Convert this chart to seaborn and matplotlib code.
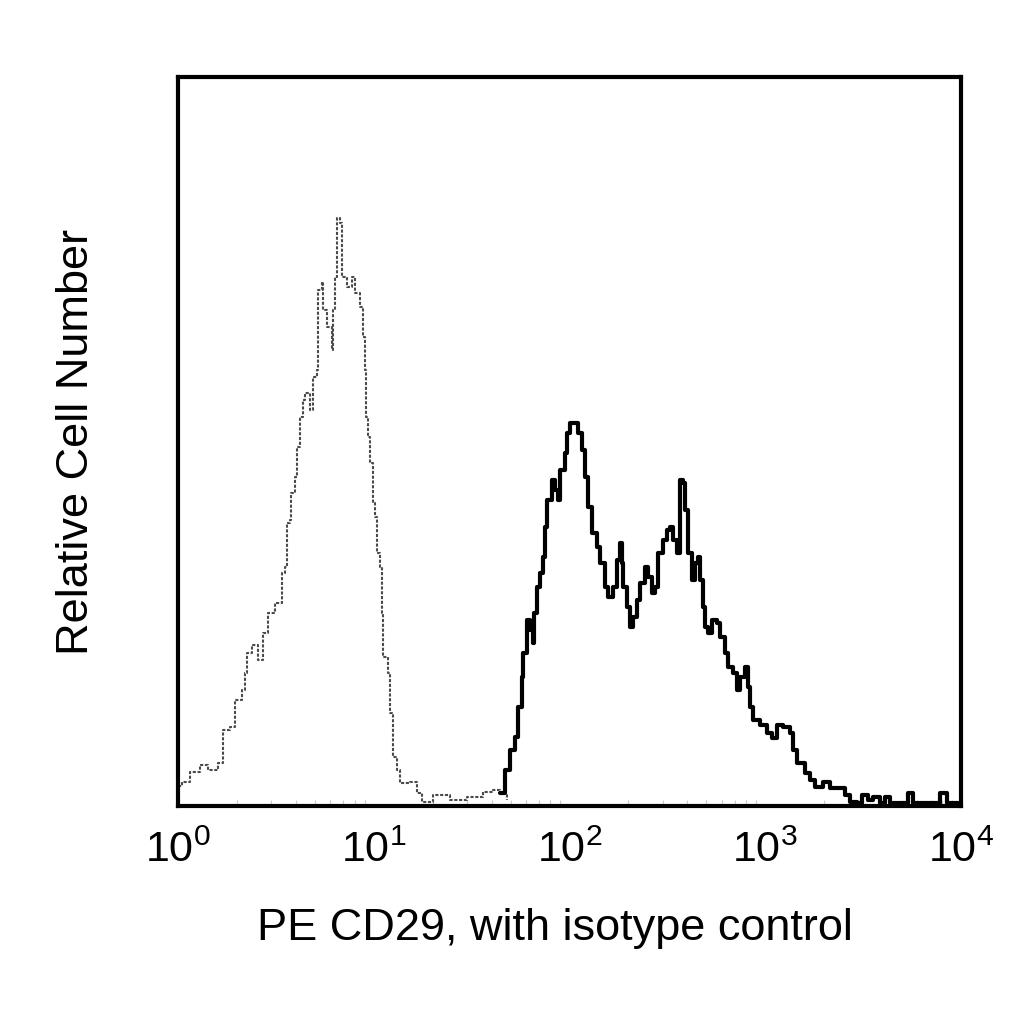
import numpy as np
import pandas as pd
import matplotlib
matplotlib.use("Agg")
import matplotlib.pyplot as plt
import seaborn as sns
from matplotlib.ticker import LogLocator, LogFormatterMathtext, NullFormatter

# isotype control (grey, dotted)
iso_x = [1.0, 1.05, 1.15, 1.30, 1.42, 1.60, 1.70, 1.84, 1.96, 2.12, 2.20, 2.25, 2.39, 2.56,
         2.72, 2.88, 3.13, 3.40, 3.52, 3.60, 3.73, 3.78, 3.96, 4.05, 4.20, 4.35, 4.46, 4.72,
         4.89, 5.13, 5.19, 5.44, 5.50, 5.77, 6.12, 6.19, 6.34, 6.49, 6.72, 6.88, 7.30, 7.74,
         8.02, 8.51, 8.81, 9.02, 9.13, 9.35, 9.57, 9.91, 10.1, 10.4, 10.8, 11.0, 11.1, 11.8,
         12.1, 12.5, 13.2, 13.6, 15.3, 16.6, 17.6, 20.1, 24.5, 30.0, 36.1, 40.7, 44.2, 48.0]
iso_y = [20, 24, 34, 41, 36, 43, 76, 79, 106, 116, 133, 153, 161, 146,
         173, 193, 203, 233, 239, 283, 286, 313, 329, 359, 389, 406, 413, 396,
         429, 436, 516, 524, 496, 479, 456, 496, 529, 588, 583, 529, 519, 529,
         513, 499, 469, 436, 389, 369, 343, 303, 289, 253, 239, 193, 149, 133,
         93, 49, 36, 23, 24, 13, 4, 11, 6, 9, 14, 16, 13, 6]

# PE CD29 (black)
cd29_x = [44.2, 46.8, 49.7, 52.7, 54.6, 57.2, 57.9, 60.6, 62.8, 65.1, 65.9, 68.2, 70.7, 73.2,
          75.0, 76.7, 81.4, 84.3, 87.4, 89.4, 94.8, 97.1, 100.6, 109, 110, 116, 120, 124,
          130, 138, 143, 152, 157, 167, 175, 181, 185, 188, 197, 204, 211, 221, 229, 243,
          252, 264, 273, 283, 301, 315, 326, 338, 354, 367, 380, 389, 403, 423, 438, 453,
          464, 481, 492, 510, 535, 567, 587, 623, 645, 685, 717, 743, 788, 817, 836, 866,
          940, 1020, 1080, 1148, 1233, 1338, 1386, 1453, 1541, 1597, 1693, 1797, 1973, 2142,
          2353, 2555, 2709, 2944, 3120, 3348, 3551, 3857, 4090, 4335, 5170, 5360, 5690, 7640,
          7820, 8490, 9660]
cd29_y = [13, 36, 56, 69, 99, 129, 153, 186, 176, 163, 193, 219, 233, 249,
          279, 306, 326, 316, 306, 336, 353, 373, 383, 383, 373, 356, 329, 299,
          273, 259, 243, 219, 209, 219, 246, 263, 243, 219, 199, 179, 189, 206, 223, 239,
          229, 213, 219, 253, 266, 276, 279, 266, 253, 326, 323, 296, 253, 226, 243, 249,
          226, 199, 179, 173, 186, 183, 169, 153, 139, 133, 116, 129, 139, 119, 99, 86,
          81, 73, 68, 81, 79, 73, 56, 43, 43, 33, 26, 19, 24, 18,
          18, 11, 4, 3, 11, 6, 9, 3, 9, 3, 3, 13, 3, 3,
          13, 3, 3]

iso = pd.DataFrame({"x": iso_x, "y": iso_y})
cd29 = pd.DataFrame({"x": cd29_x, "y": cd29_y})

sns.set_theme(style="white")
plt.rcParams["font.family"] = ["Liberation Sans", "DejaVu Sans"]

fig = plt.figure(figsize=(10.24, 10.24), dpi=100)
ax = fig.add_axes([0.1738, 0.2129, 0.7646, 0.7119])

sns.lineplot(data=iso, x="x", y="y", ax=ax, estimator=None, sort=True,
             drawstyle="steps-post", color="#4a4a4a", linewidth=1.5,
             linestyle=(0, (1.5, 0.8)))
sns.lineplot(data=cd29, x="x", y="y", ax=ax, estimator=None, sort=True,
             drawstyle="steps-post", color="black", linewidth=3)

ax.set_xscale("log")
ax.set_xlim(1, 10000)
ax.set_ylim(0, 729)

ax.xaxis.set_major_locator(LogLocator(base=10))
ax.xaxis.set_major_formatter(LogFormatterMathtext())
ax.xaxis.set_minor_locator(LogLocator(base=10, subs=np.arange(2, 10)))
ax.xaxis.set_minor_formatter(NullFormatter())
ax.tick_params(axis="x", which="major", length=0, pad=18, labelsize=31, colors="black")
ax.tick_params(axis="x", which="minor", bottom=True, direction="in", length=4,
               width=0.8, color="#c8c8c8")
ax.set_yticks([])

for s in ax.spines.values():
    s.set_visible(True)
    s.set_color("black")
    s.set_linewidth(3)

ax.set_xlabel("PE CD29, with isotype control", fontsize=32.5, labelpad=26,
              color="black", x=0.482)
ax.set_ylabel("Relative Cell Number", fontsize=32.5, labelpad=58, color="black")

fig.savefig("out.png", dpi=100, facecolor="white")
